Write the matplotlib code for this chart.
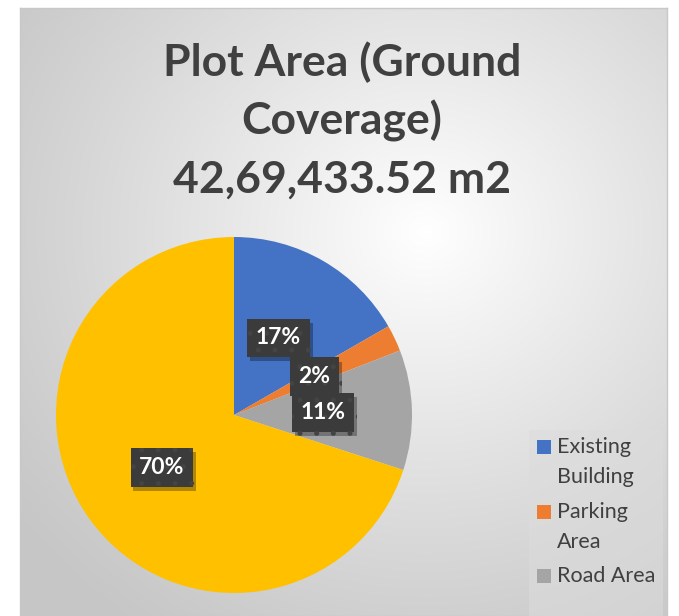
import numpy as np
import matplotlib
matplotlib.use("Agg")
import matplotlib.pyplot as plt
import matplotlib.patheffects as pe
from matplotlib.patches import Rectangle

categories = ["Existing\nBuilding", "Parking\nArea", "Road Area"]
values = [16.7, 2.4, 10.9, 70.0]
colors = ["#4472C4", "#ED7D31", "#A5A5A5", "#FFC000"]
title_lines = ["Plot Area (Ground", "Coverage)", "42,69,433.52 m2"]

W, H = 679, 616
fig = plt.figure(figsize=(W / 100, H / 100), dpi=100)
fig.patch.set_facecolor("white")

# chart area with radial gradient background
x0, y0, x1, y1 = 20, 8, 667, 616
bg = fig.add_axes([x0 / W, 1 - y1 / H, (x1 - x0) / W, (y1 - y0) / H])
yy, xx = np.mgrid[0:300, 0:320]
cx, cy = 200, 110
d = np.sqrt(((xx - cx) / 320) ** 2 + ((yy - cy) / 300) ** 2)
d = np.clip(d / 0.78, 0, 1)
lo, hi = 1.0, 0.78
img = hi + (lo - hi) * (1 - d) ** 1.1
bg.imshow(np.dstack([img, img, img]), aspect="auto", extent=[0, 1, 0, 1], origin="upper")
bg.set_xlim(0, 1)
bg.set_ylim(0, 1)
bg.set_xticks([])
bg.set_yticks([])
for s in bg.spines.values():
    s.set_color("#c8c8c8")
    s.set_linewidth(1)

# title
ty = [62, 121, 180]
for line, y in zip(title_lines, ty):
    fig.text(342 / W, 1 - y / H, line, ha="center", va="center",
             fontsize=32, fontweight="bold", color="#404040", family="Lato")

# pie
r = 178
pcx, pcy = 234, 415
ax = fig.add_axes([(pcx - r) / W, (H - pcy - r) / H, 2 * r / W, 2 * r / H])
plt.rcParams["hatch.linewidth"] = 1.2
wedges, texts, autotexts = ax.pie(
    values, colors=colors, startangle=90, counterclock=False,
    autopct="%.0f%%", pctdistance=0.5, radius=1.0,
    wedgeprops=dict(linewidth=0),
    textprops=dict(color="white", fontsize=16.5, fontweight="bold", family="Lato"))
ax.set_xlim(-1, 1)
ax.set_ylim(-1, 1)
ax.set_aspect("auto")
ax.axis("off")
for t in autotexts:
    t.set_bbox(dict(boxstyle="square,pad=0.38", facecolor="#3b3b3b",
                    edgecolor="#444444", linewidth=0, hatch="."))
    t.get_bbox_patch().set_path_effects(
        [pe.SimplePatchShadow(offset=(2, -3), shadow_rgbFace="black", alpha=0.3), pe.Normal()])

# legend background box
lx0, ly0, lx1 = 529, 430, 663
lg_bg = Rectangle((lx0 / W, 0), (lx1 - lx0) / W, 1 - ly0 / H, transform=fig.transFigure,
                  facecolor="#dcdcdc", edgecolor="none", alpha=0.55)
fig.patches.append(lg_bg)

# legend entries
entry_y = [447, 512, 576]
for lab, c, y in zip(categories, colors[:3], entry_y):
    fig.patches.append(Rectangle((537 / W, 1 - (y + 7) / H), 14 / W, 14 / H,
                                 transform=fig.transFigure, facecolor=c, edgecolor="none"))
    for k, part in enumerate(lab.split("\n")):
        fig.text(557 / W, 1 - (y + 30 * k) / H, part, ha="left", va="center",
                 fontsize=15.5, color="#404040", family="Lato")

fig.savefig("out.png", dpi=100)
